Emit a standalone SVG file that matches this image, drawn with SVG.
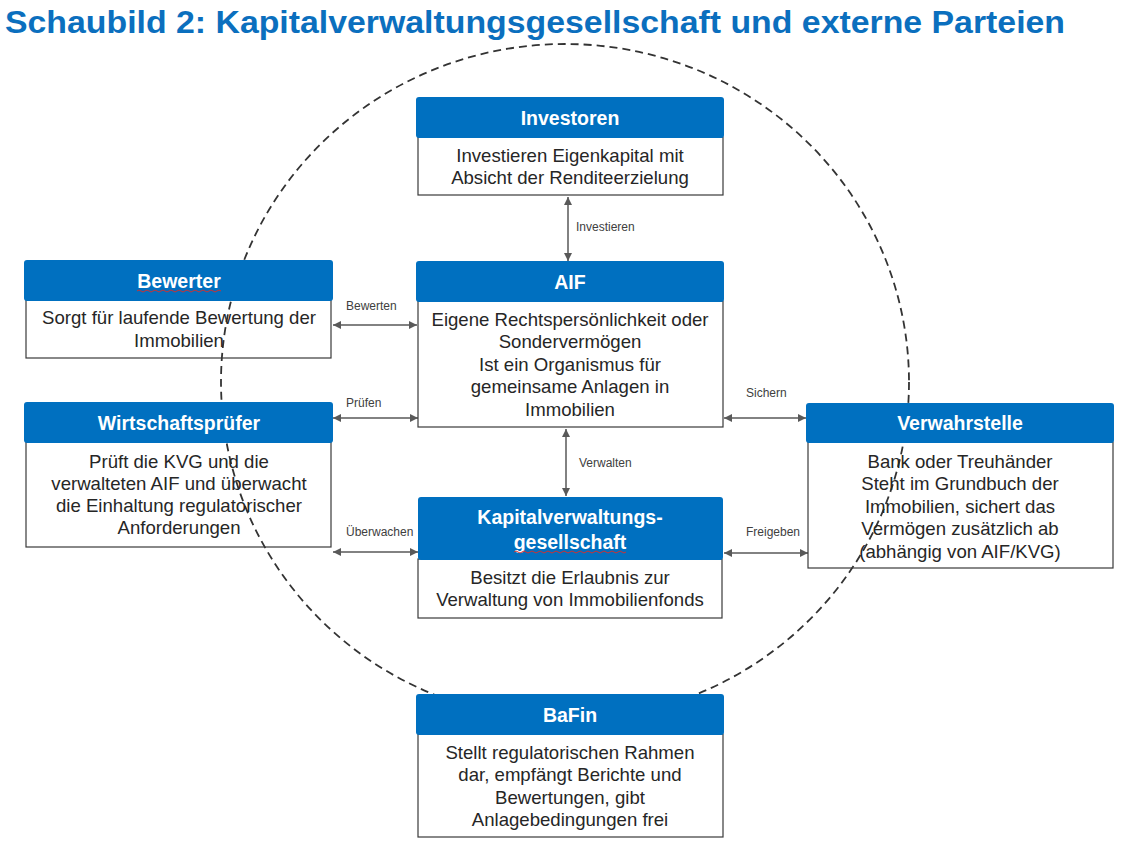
<svg xmlns="http://www.w3.org/2000/svg" width="1133" height="845" viewBox="0 0 1133 845">
<style>
.title{font-family:"Liberation Sans",Arial,sans-serif;font-weight:bold;font-size:32px;fill:#0B6FBE}
.hdr{fill:#0070C0}
.hdrt{font-family:"Liberation Sans",Arial,sans-serif;font-weight:bold;font-size:19.5px;fill:#ffffff;text-anchor:middle}
.body{fill:none;stroke:#3a3a3a;stroke-width:1.2}
.bt{font-family:"Liberation Sans",Arial,sans-serif;font-size:18.6px;fill:#262626;text-anchor:middle}
.lbl{font-family:"Liberation Sans",Arial,sans-serif;font-size:12px;fill:#404040}
.conn{stroke:#595959;stroke-width:1.5;fill:none;marker-start:url(#ah);marker-end:url(#ah)}
.sq{fill:none;stroke:#d03030;stroke-width:1}
</style>
<defs>
<marker id="ah" viewBox="0 0 10 10" refX="10" refY="5" markerWidth="9" markerHeight="8" markerUnits="userSpaceOnUse" orient="auto-start-reverse">
<path d="M0,0 L10,5 L0,10 z" fill="#595959"/>
</marker>
</defs>
<rect width="1133" height="845" fill="#ffffff"/>
<text class="title" x="5" y="33" textLength="1060" lengthAdjust="spacingAndGlyphs">Schaubild 2: Kapitalverwaltungsgesellschaft und externe Parteien</text>

<ellipse cx="565" cy="382" rx="344" ry="338" fill="none" stroke="#333333" stroke-width="1.8" stroke-dasharray="8 5"/>

<g id="connectors">
<line class="conn" x1="568" y1="197" x2="568" y2="261"/>
<text class="lbl" x="576" y="231">Investieren</text>
<line class="conn" x1="333" y1="325" x2="417" y2="325"/>
<text class="lbl" x="346" y="310">Bewerten</text>
<line class="conn" x1="333" y1="418" x2="418" y2="418"/>
<text class="lbl" x="346" y="407">Prüfen</text>
<line class="conn" x1="566" y1="429" x2="566" y2="496"/>
<text class="lbl" x="579" y="467">Verwalten</text>
<line class="conn" x1="333" y1="552" x2="418" y2="552"/>
<text class="lbl" x="346" y="536">Überwachen</text>
<line class="conn" x1="724" y1="418" x2="806" y2="418"/>
<text class="lbl" x="746" y="397">Sichern</text>
<line class="conn" x1="724" y1="553" x2="808" y2="553"/>
<text class="lbl" x="746" y="536">Freigeben</text>
</g>

<g id="investoren">
<rect class="body" x="418" y="137" width="305" height="58"/>
<rect class="hdr" x="416" y="97" width="308" height="41" rx="3"/>
<text class="hdrt" x="570" y="125">Investoren</text>
<text class="bt" x="570" y="162">Investieren Eigenkapital mit</text>
<text class="bt" x="570" y="184">Absicht der Renditeerzielung</text>
</g>

<g id="bewerter">
<rect class="body" x="26" y="300" width="305" height="58"/>
<rect class="hdr" x="24" y="260" width="309" height="41" rx="3"/>
<text class="hdrt" x="179" y="288">Bewerter</text>
<path class="sq" d="M137,291 q2,-2 4,0 t4,0 t4,0 t4,0 t4,0 t4,0 t4,0 t4,0 t4,0 t4,0 t4,0 t4,0 t4,0 t4,0 t4,0 t4,0 t4,0 t4,0 t4,0 t4,0 t4,0"/>
<text class="bt" x="179" y="324">Sorgt für laufende Bewertung der</text>
<text class="bt" x="179" y="347">Immobilien</text>
</g>

<g id="aif">
<rect class="body" x="418" y="301" width="305" height="126"/>
<rect class="hdr" x="416" y="261" width="308" height="41" rx="3"/>
<text class="hdrt" x="570" y="289">AIF</text>
<text class="bt" x="570" y="326">Eigene Rechtspersönlichkeit oder</text>
<text class="bt" x="570" y="348">Sondervermögen</text>
<text class="bt" x="570" y="371">Ist ein Organismus für</text>
<text class="bt" x="570" y="393">gemeinsame Anlagen in</text>
<text class="bt" x="570" y="416">Immobilien</text>
</g>

<g id="wirtschaftspruefer">
<rect class="body" x="26" y="442" width="305" height="105"/>
<rect class="hdr" x="24" y="402" width="309" height="41" rx="3"/>
<text class="hdrt" x="179" y="430">Wirtschaftsprüfer</text>
<text class="bt" x="179" y="468">Prüft die KVG und die</text>
<text class="bt" x="179" y="490">verwalteten AIF und überwacht</text>
<text class="bt" x="179" y="512">die Einhaltung regulatorischer</text>
<text class="bt" x="179" y="534">Anforderungen</text>
</g>

<g id="verwahrstelle">
<rect class="body" x="808" y="442" width="305" height="126"/>
<rect class="hdr" x="806" y="403" width="308" height="40" rx="3"/>
<text class="hdrt" x="960" y="430">Verwahrstelle</text>
<text class="bt" x="960" y="468">Bank oder Treuhänder</text>
<text class="bt" x="960" y="490">Steht im Grundbuch der</text>
<text class="bt" x="960" y="513">Immobilien, sichert das</text>
<text class="bt" x="960" y="535">Vermögen zusätzlich ab</text>
<text class="bt" x="960" y="558">(abhängig von AIF/KVG)</text>
</g>

<g id="kvg">
<rect class="body" x="418" y="559" width="304" height="59"/>
<rect class="hdr" x="418" y="497" width="305" height="63" rx="3"/>
<text class="hdrt" x="570" y="524">Kapitalverwaltungs-</text>
<text class="hdrt" x="570" y="549">gesellschaft</text>
<path class="sq" d="M514,552 q2,-2 4,0 t4,0 t4,0 t4,0 t4,0 t4,0 t4,0 t4,0 t4,0 t4,0 t4,0 t4,0 t4,0 t4,0 t4,0 t4,0 t4,0 t4,0 t4,0 t4,0 t4,0 t4,0 t4,0 t4,0 t4,0 t4,0 t4,0 t4,0"/>
<text class="bt" x="570" y="584">Besitzt die Erlaubnis zur</text>
<text class="bt" x="570" y="606">Verwaltung von Immobilienfonds</text>
</g>

<g id="bafin">
<rect class="body" x="418" y="734" width="305" height="103"/>
<rect class="hdr" x="416" y="694" width="308" height="41" rx="3"/>
<text class="hdrt" x="570" y="722">BaFin</text>
<text class="bt" x="570" y="759">Stellt regulatorischen Rahmen</text>
<text class="bt" x="570" y="781">dar, empfängt Berichte und</text>
<text class="bt" x="570" y="804">Bewertungen, gibt</text>
<text class="bt" x="570" y="826">Anlagebedingungen frei</text>
</g>
</svg>
